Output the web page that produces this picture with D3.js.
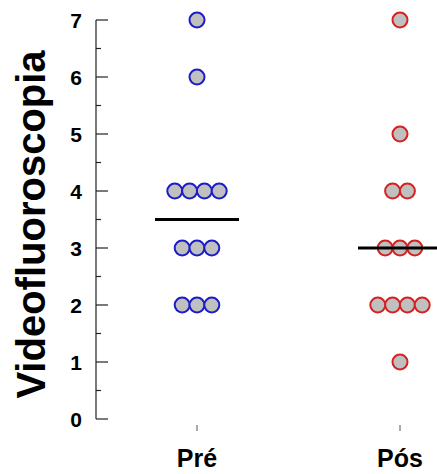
<!DOCTYPE html>
<html>
<head>
<meta charset="utf-8">
<script src="https://cdn.jsdelivr.net/npm/d3@7"></script>
<style>
  body { margin: 0; background: #fff; }
  text { font-family: "Liberation Sans", Arial, sans-serif; font-weight: bold; }
</style>
</head>
<body>
<script>
// values
const groups = ["Pré", "Pós"];
const preValues = [7, 6, 4, 4, 4, 4, 3, 3, 3, 2, 2, 2];
const posValues = [7, 5, 4, 4, 3, 3, 3, 2, 2, 2, 2, 1];
const yTicks = [0, 1, 2, 3, 4, 5, 6, 7];
const strokeColors = ["#1c1cc8", "#d42222"];

const width = 437, height = 474;

const svg = d3.select("body").append("svg")
    .attr("width", width)
    .attr("height", height);

const y = d3.scaleLinear().domain([0, 7]).range([419, 20]);
const x = d3.scalePoint().domain(groups).range([197, 400]);
const spacing = 14.8;

// y axis: ticks pointing inward, minor ticks at halves
const axisX = 96;
const yAxis = svg.append("g").attr("transform", `translate(${axisX},0)`);
yAxis.append("line")
    .attr("y1", y(0)).attr("y2", y(7))
    .attr("stroke", "#222").attr("stroke-width", 1.2);
yAxis.selectAll("line.major").data(yTicks).join("line")
    .attr("class", "major")
    .attr("x1", 0).attr("x2", 12)
    .attr("y1", d => y(d)).attr("y2", d => y(d))
    .attr("stroke", "#222").attr("stroke-width", 1.2);
yAxis.selectAll("line.minor").data(d3.range(0.5, 7, 1)).join("line")
    .attr("class", "minor")
    .attr("x1", 0).attr("x2", 5)
    .attr("y1", d => y(d)).attr("y2", d => y(d))
    .attr("stroke", "#222").attr("stroke-width", 1.2);
yAxis.selectAll("text").data(yTicks).join("text")
    .attr("x", -14)
    .attr("y", d => y(d))
    .attr("dy", "0.36em")
    .attr("text-anchor", "end")
    .attr("font-size", 21)
    .text(d => d);

svg.append("text")
    .attr("transform", `translate(45,${(y(0) + y(7)) / 2 + 5}) rotate(-90)`)
    .attr("text-anchor", "middle")
    .attr("font-size", 40)
    .text("Videofluoroscopia");

// x ticks and labels
svg.selectAll("line.xtick").data(groups).join("line")
    .attr("class", "xtick")
    .attr("x1", d => x(d)).attr("x2", d => x(d))
    .attr("y1", 425).attr("y2", 431)
    .attr("stroke", "#555").attr("stroke-width", 1);
svg.selectAll("text.xlab").data(groups).join("text")
    .attr("class", "xlab")
    .attr("x", d => x(d))
    .attr("y", 467)
    .attr("text-anchor", "middle")
    .attr("font-size", 25)
    .text(d => d);

// dot columns
[preValues, posValues].forEach((vals, gi) => {
    const counts = d3.rollup(vals, v => v.length, d => d);
    const pts = [];
    counts.forEach((n, v) => {
        for (let i = 0; i < n; i++) pts.push({ v, off: (i - (n - 1) / 2) * spacing });
    });
    const g = svg.append("g");
    g.selectAll("circle").data(pts).join("circle")
        .attr("cx", d => x(groups[gi]) + d.off)
        .attr("cy", d => y(d.v))
        .attr("r", 7.5)
        .attr("fill", "#c0c0c0")
        .attr("stroke", strokeColors[gi])
        .attr("stroke-width", 2);
    const med = d3.median(vals);
    svg.append("line")
        .attr("x1", x(groups[gi]) - 42).attr("x2", x(groups[gi]) + 42)
        .attr("y1", y(med)).attr("y2", y(med))
        .attr("stroke", "#000").attr("stroke-width", 3);
});
</script>
</body>
</html>
